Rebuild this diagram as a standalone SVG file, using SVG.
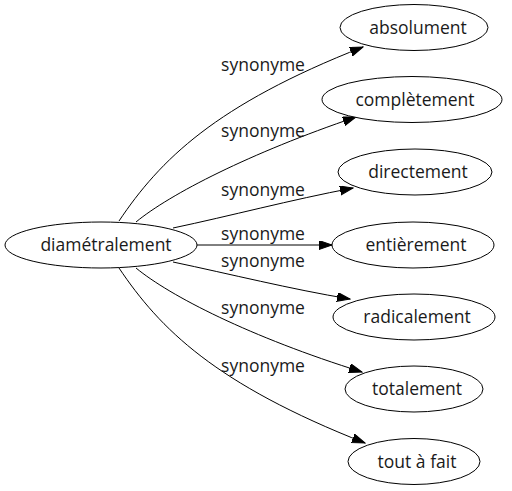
<svg xmlns="http://www.w3.org/2000/svg" width="512" height="491" viewBox="0 0 512 491">
<style>
  .node ellipse { fill: #ffffff; stroke: #000000; stroke-width: 1; }
  .node text { font-family: "Open Sans", "DejaVu Sans", sans-serif; font-size: 17.5px; fill: #1a1a1a; text-anchor: middle; }
  .edge { fill: none; stroke: #000000; stroke-width: 1; marker-end: url(#arrow); }
  .lbl { font-family: "Open Sans", "DejaVu Sans", sans-serif; font-size: 17.5px; fill: #1a1a1a; text-anchor: middle; }
</style>
<defs>
  <marker id="arrow" markerUnits="userSpaceOnUse" markerWidth="14" markerHeight="10" refX="13" refY="4.5" orient="auto">
    <path d="M0,0 L13,4.5 L0,9 z" fill="#000000" stroke="#000000" stroke-width="1"/>
  </marker>
</defs>
<rect width="512" height="491" fill="#ffffff"/>
<g id="connectors">
  <path class="edge" d="M119,221 C160,160 215,105 363,47"/>
  <path class="edge" d="M136,222 C170,194 250,153 356,117"/>
  <path class="edge" d="M173,228 C230,216 290,200 353,188"/>
  <path class="edge" d="M197,245 L332,245"/>
  <path class="edge" d="M173,262 C230,274 290,289 350,299"/>
  <path class="edge" d="M136,268 C170,296 250,337 362,372"/>
  <path class="edge" d="M119,268 C160,329 215,384 365,443"/>
  <text class="lbl" x="263" y="71">synonyme</text>
  <text class="lbl" x="263" y="137">synonyme</text>
  <text class="lbl" x="263" y="196">synonyme</text>
  <text class="lbl" x="263" y="239.5">synonyme</text>
  <text class="lbl" x="263" y="267">synonyme</text>
  <text class="lbl" x="263" y="314">synonyme</text>
  <text class="lbl" x="263" y="372">synonyme</text>
</g>
<g id="n-diametralement" class="node">
  <ellipse cx="101" cy="245" rx="96" ry="23"/>
  <text x="106" y="251">diamétralement</text>
</g>
<g id="n-absolument" class="node">
  <ellipse cx="414" cy="27.5" rx="74" ry="23"/>
  <text x="418" y="33.5">absolument</text>
</g>
<g id="n-completement" class="node">
  <ellipse cx="412" cy="99.5" rx="90" ry="23"/>
  <text x="415" y="105.5">complètement</text>
</g>
<g id="n-directement" class="node">
  <ellipse cx="415" cy="172" rx="77" ry="23"/>
  <text x="418" y="178">directement</text>
</g>
<g id="n-entierement" class="node">
  <ellipse cx="413" cy="245" rx="81" ry="23"/>
  <text x="416" y="251">entièrement</text>
</g>
<g id="n-radicalement" class="node">
  <ellipse cx="414" cy="317" rx="81" ry="23"/>
  <text x="417" y="323">radicalement</text>
</g>
<g id="n-totalement" class="node">
  <ellipse cx="414" cy="389" rx="69" ry="23"/>
  <text x="417" y="395">totalement</text>
</g>
<g id="n-tout-a-fait" class="node">
  <ellipse cx="414" cy="461.5" rx="66" ry="23"/>
  <text x="417" y="467.5">tout à fait</text>
</g>
</svg>
